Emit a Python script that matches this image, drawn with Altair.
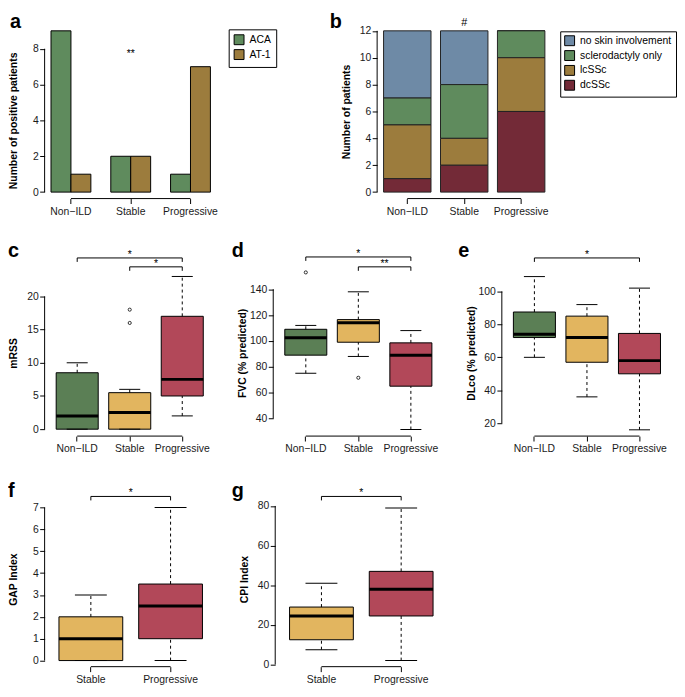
import altair as alt
import pandas as pd

FONT = "Liberation Sans"
INK = "#1a1a1a"

# ---------------- data ----------------
groups3 = ["Non\u2212ILD", "Stable", "Progressive"]
groups2 = ["Stable", "Progressive"]
group_colors = ["#5B7F55", "#E2B55F", "#B24859"]

# panel a
antibodies = ["ACA", "AT-1"]
antibody_colors = ["#5F8B5D", "#9C7C3D"]
aca_counts = [9, 2, 1]
at1_counts = [1, 2, 7]

# panel b
skin_types = ["no skin involvement", "sclerodactyly only", "lcSSc", "dcSSc"]
skin_colors = ["#6E8AA6", "#5F8B5D", "#9C7C3D", "#732A37"]
skin_none = [5, 4, 0]
skin_sclero = [2, 4, 2]
skin_lc = [4, 2, 4]
skin_dc = [1, 2, 6]

# panel c: mRSS  (low whisker, Q1, median, Q3, high whisker)
mrss_low = [0, 0, 2]
mrss_q1 = [0, 0, 5]
mrss_med = [2, 2.5, 7.5]
mrss_q3 = [8.5, 5.5, 17]
mrss_high = [10, 6, 23]
mrss_out_group = ["Stable", "Stable"]
mrss_out = [16, 18]

# panel d: FVC
fvc_low = [75, 88, 31.5]
fvc_q1 = [89, 99, 65]
fvc_med = [102.5, 114, 89]
fvc_q3 = [109, 116.5, 98.5]
fvc_high = [112, 138, 108]
fvc_out_group = ["Non\u2212ILD", "Stable"]
fvc_out = [153, 71.5]

# panel e: DLco
dlco_low = [60, 36, 16]
dlco_q1 = [72, 57, 50]
dlco_med = [74, 72, 58]
dlco_q3 = [87.5, 85, 74.5]
dlco_high = [109, 92, 102]

# panel f: GAP index
gap_low = [0, 0]
gap_q1 = [0, 1]
gap_med = [1, 2.5]
gap_q3 = [2, 3.5]
gap_high = [3, 7]

# panel g: CPI index
cpi_low = [7.5, 2]
cpi_q1 = [12.5, 24.5]
cpi_med = [24.5, 38]
cpi_q3 = [29, 47]
cpi_high = [41, 79]

dummy = pd.DataFrame({"k": [0]})


# ---------------- helpers ----------------
def x_axis():
    return alt.Axis(title=None, domain=False, grid=False, ticks=True, tickSize=5,
                    tickColor="black", tickWidth=1, labelAngle=0, labelPadding=3,
                    labelOverlap=False,
                    labelFont=FONT, labelFontSize=10.5, labelColor=INK)


def y_axis(title, values, title_y=None):
    kw = dict(title=title, values=values, tickCount=len(values), domain=False, grid=False,
              ticks=True, tickSize=5, tickColor="black", tickWidth=1, labelPadding=1.5,
              labelOverlap=False,
              labelFont=FONT, labelFontSize=10.5, labelColor=INK,
              titleFont=FONT, titleFontSize=10.5, titleFontWeight="bold",
              titleColor="black", titleX=-31, titleBaseline="middle", titleAngle=270)
    if title_y is not None:
        kw["titleY"] = title_y
    return alt.Axis(**kw)


def letter_layer(letter, dx, dy):
    return alt.Chart(pd.DataFrame({"letter": [letter]})).mark_text(
        align="left", baseline="alphabetic", font=FONT, fontSize=20,
        fontWeight="bold", color="black"
    ).encode(x=alt.value(dx), y=alt.value(dy), text="letter:N")


def axis_lines(cats, xsc, ysc, yticks, height):
    yl = alt.Chart(dummy).mark_rule(color="black", strokeWidth=1).encode(
        x=alt.value(0),
        y=alt.YDatum(yticks[0], scale=ysc),
        y2=alt.Y2Datum(yticks[-1]),
    )
    xl = alt.Chart(dummy).mark_rule(color="black", strokeWidth=1).encode(
        x=alt.XDatum(cats[0], type="nominal", scale=xsc),
        x2=alt.X2Datum(cats[-1]),
        y=alt.value(height),
    )
    return [yl, xl]


def bracket_layers(cats, xsc, step, brackets):
    out = []
    for i, j, off, label in brackets:
        out.append(alt.Chart(dummy).mark_rule(color="black", strokeWidth=1).encode(
            x=alt.XDatum(cats[i], type="nominal", scale=xsc),
            x2=alt.X2Datum(cats[j]),
            y=alt.value(off)))
        for k in (i, j):
            out.append(alt.Chart(dummy).mark_rule(color="black", strokeWidth=1).encode(
                x=alt.XDatum(cats[k], type="nominal", scale=xsc),
                y=alt.value(off), y2=alt.value(off + 4)))
        out.append(alt.Chart(dummy).mark_text(
            font=FONT, fontSize=10.5, color="black", align="center",
            baseline="alphabetic", dx=(j - i) * step / 2
        ).encode(x=alt.XDatum(cats[i], type="nominal", scale=xsc),
                 y=alt.value(off), text=alt.value(label)))
    return out


def box_panel(letter, lpos, ytitle, cats, low, q1, med, q3, high, out_groups, out_vals,
              ydomain, yticks, brackets, width, height, title_y=None):
    n = len(cats)
    po = 0.22 if n == 3 else 0.18
    step = width / (n - 0.2 + 2 * po)
    box_w = 0.8 * step
    xsc = alt.Scale(domain=cats, paddingInner=0.2, paddingOuter=po)
    ysc = alt.Scale(domain=ydomain, nice=False, zero=False)
    df = pd.DataFrame({"group": cats, "low": low, "q1": q1, "med": med, "q3": q3, "high": high})
    base = alt.Chart(df)
    xs = alt.X("group:N", scale=xsc)
    main = base.mark_bar(stroke="black", strokeWidth=1).encode(
        x=alt.X("group:N", scale=xsc, axis=x_axis()),
        y=alt.Y("q1:Q", scale=ysc, axis=y_axis(ytitle, yticks, title_y)),
        y2="q3:Q",
        color=alt.Color("group:N", scale=alt.Scale(domain=groups3, range=group_colors), legend=None),
    )
    wh = base.mark_rule(color="black", strokeWidth=1, strokeDash=[3, 3]).encode(
        x=xs, y=alt.Y("q3:Q", scale=ysc), y2="high:Q")
    wl = base.mark_rule(color="black", strokeWidth=1, strokeDash=[3, 3]).encode(
        x=xs, y=alt.Y("low:Q", scale=ysc), y2="q1:Q")
    cap_hi = base.mark_tick(color="black", opacity=1, thickness=1, size=box_w / 2).encode(
        x=xs, y=alt.Y("high:Q", scale=ysc))
    cap_lo = base.mark_tick(color="black", opacity=1, thickness=1, size=box_w / 2).encode(
        x=xs, y=alt.Y("low:Q", scale=ysc))
    medians = base.mark_tick(color="black", opacity=1, thickness=3, size=box_w).encode(
        x=xs, y=alt.Y("med:Q", scale=ysc))
    layers = [main, wh, wl, cap_hi, cap_lo, medians]
    if out_vals:
        odf = pd.DataFrame({"group": out_groups, "value": out_vals})
        layers.append(alt.Chart(odf).mark_point(
            shape="circle", filled=False, size=10, color="black", strokeWidth=0.8, opacity=1
        ).encode(x=xs, y=alt.Y("value:Q", scale=ysc)))
    layers += axis_lines(cats, xsc, ysc, yticks, height)
    layers += bracket_layers(cats, xsc, step, brackets)
    layers.append(letter_layer(letter, lpos[0], lpos[1]))
    return alt.layer(*layers).properties(width=width, height=height)


# ---------------- panel a ----------------
def panel_a(width, height):
    xsc = alt.Scale(domain=groups3, paddingInner=1 / 3, paddingOuter=0.107)
    ysc = alt.Scale(domain=[-0.36, 9.36], nice=False, zero=False)
    df = pd.DataFrame({
        "group": groups3 * 2,
        "antibody": [antibodies[0]] * 3 + [antibodies[1]] * 3,
        "count": aca_counts + at1_counts,
    })
    yticks = [0, 2, 4, 6, 8]
    bars = alt.Chart(df).mark_bar(stroke="black", strokeWidth=1).encode(
        x=alt.X("group:N", scale=xsc, axis=x_axis()),
        xOffset=alt.XOffset("antibody:N", scale=alt.Scale(domain=antibodies, paddingInner=0, paddingOuter=0)),
        y=alt.Y("count:Q", scale=ysc, axis=y_axis("Number of positive patients", yticks, height / 2 + 9)),
        y2=alt.Y2Datum(0),
        color=alt.Color("antibody:N", scale=alt.Scale(domain=antibodies, range=antibody_colors),
                        legend=alt.Legend(title=None, orient="none", legendX=186, legendY=5,
                                          symbolType="square", symbolSize=100,
                                          symbolStrokeColor="black", symbolStrokeWidth=1,
                                          labelFont=FONT, labelFontSize=10.5, labelColor="black",
                                          strokeColor="black", fillColor="white", padding=5,
                                          rowPadding=0, labelOffset=5)),
    )
    sig = alt.Chart(dummy).mark_text(font=FONT, fontSize=10.5, color="black",
                                     align="center", baseline="alphabetic", dy=8).encode(
        x=alt.XDatum("Stable", type="nominal", scale=xsc),
        y=alt.YDatum(8, scale=ysc),
        text=alt.value("**"))
    layers = [bars, sig] + axis_lines(groups3, xsc, ysc, yticks, height) + [letter_layer("a", -35, 4)]
    return alt.layer(*layers).properties(width=width, height=height)


# ---------------- panel b ----------------
def panel_b(width, height):
    xsc = alt.Scale(domain=groups3, paddingInner=0.167, paddingOuter=0.113)
    ysc = alt.Scale(domain=[-0.48, 12.48], nice=False, zero=False)
    counts = [skin_none, skin_sclero, skin_lc, skin_dc]
    rows = []
    for s, (t, vals) in enumerate(zip(skin_types, counts)):
        for g, v in zip(groups3, vals):
            rows.append({"group": g, "skin": t, "count": v, "rank": len(skin_types) - 1 - s})
    df = pd.DataFrame(rows)
    yticks = [0, 2, 4, 6, 8, 10, 12]
    bars = alt.Chart(df).mark_bar(stroke="#222222", strokeWidth=1).encode(
        x=alt.X("group:N", scale=xsc, axis=x_axis()),
        y=alt.Y("count:Q", stack="zero", scale=ysc, axis=y_axis("Number of patients", yticks)),
        color=alt.Color("skin:N", scale=alt.Scale(domain=skin_types, range=skin_colors),
                        legend=alt.Legend(title=None, orient="none", legendX=185, legendY=7,
                                          symbolType="square", symbolSize=100,
                                          symbolStrokeColor="black", symbolStrokeWidth=1,
                                          labelFont=FONT, labelFontSize=10.5, labelColor="black",
                                          strokeColor="black", fillColor="white", padding=4,
                                          rowPadding=0, labelOffset=5)),
        order=alt.Order("rank:Q", sort="ascending"),
    )
    sig = alt.Chart(dummy).mark_text(font=FONT, fontSize=11, color="black",
                                     align="center", baseline="alphabetic").encode(
        x=alt.XDatum("Stable", type="nominal", scale=xsc),
        y=alt.value(1.5),
        text=alt.value("#"))
    layers = [bars, sig] + axis_lines(groups3, xsc, ysc, [0, 12], height) + [letter_layer("b", -48, 3.5)]
    return alt.layer(*layers).properties(width=width, height=height)


# ---------------- assemble ----------------
H1, H2, H3 = 176, 168, 167
W1A, W1B, W2, W3 = 174, 176, 172, 174

pa = panel_a(W1A, H1)
pb = panel_b(W1B, H1)

pc = box_panel("c", (-37, -13), "mRSS", groups3, mrss_low, mrss_q1, mrss_med, mrss_q3, mrss_high,
               mrss_out_group, mrss_out, [-1.04, 24.0], [0, 5, 10, 15, 20],
               [(0, 2, -12, "*"), (1, 2, -3, "*")], W2, H2)
pdd = box_panel("d", (-42, -13), "FVC (% predicted)", groups3, fvc_low, fvc_q1, fvc_med, fvc_q3, fvc_high,
                fvc_out_group, fvc_out, [26.4, 155.0], [40, 60, 80, 100, 120, 140],
                [(0, 2, -13, "*"), (1, 2, -3, "**")], W2, H2)
pe = box_panel("e", (-44, -13), "DLco (% predicted)", groups3, dlco_low, dlco_q1, dlco_med, dlco_q3, dlco_high,
               [], [], [12.2, 113.1], [20, 40, 60, 80, 100],
               [(0, 2, -12, "*")], W2, H2)
pf = box_panel("f", (-37, -4), "GAP Index", groups2, gap_low, gap_q1, gap_med, gap_q3, gap_high,
               [], [], [-0.28, 7.28], [0, 1, 2, 3, 4, 5, 6, 7],
               [(0, 1, -5, "*")], W3, H3, title_y=H3 / 2 - 5)
pg = box_panel("g", (-44, -4), "CPI Index", groups2, cpi_low, cpi_q1, cpi_med, cpi_q3, cpi_high,
               [], [], [-1.08, 82.3], [0, 20, 40, 60, 80],
               [(0, 1, -5, "*")], W3, H3, title_y=H3 / 2 - 5)

row1 = alt.hconcat(pa, pb, spacing=162, bounds="flush").resolve_scale(color="independent")
row2 = alt.hconcat(pc, pdd, pe, spacing=59, bounds="flush").resolve_scale(color="independent")
row3 = alt.hconcat(pf, pg, spacing=59, bounds="flush").resolve_scale(color="independent")

lower = alt.vconcat(row2, row3, spacing=27).resolve_scale(color="independent")
chart = alt.vconcat(row1, lower, spacing=24).resolve_scale(color="independent").properties(
    padding=0).configure(font=FONT, view=alt.ViewConfig(strokeWidth=0))

chart.save("out.html", embed_options={"renderer": "svg", "actions": False})
